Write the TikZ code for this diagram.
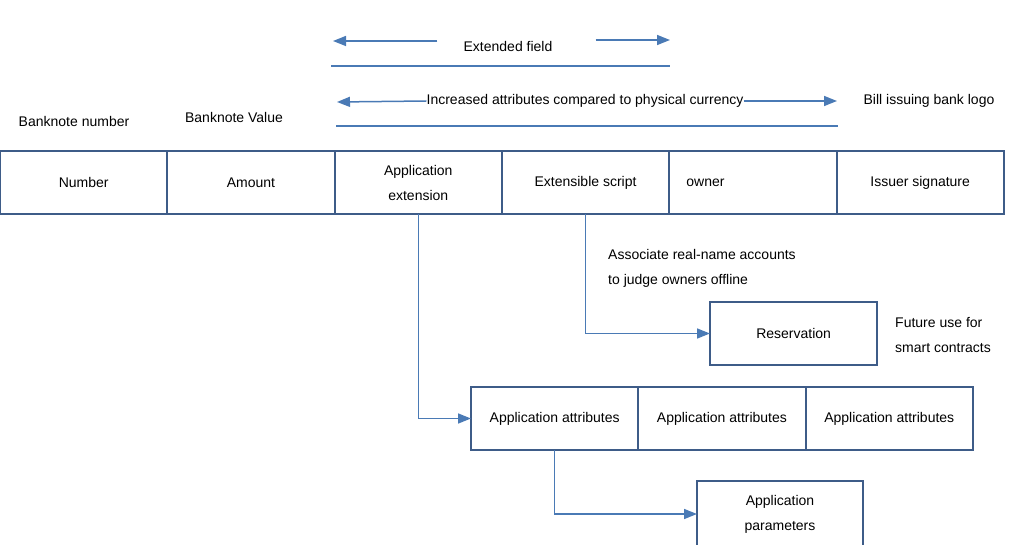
\documentclass[tikz,border=0pt]{standalone}
\usepackage{fontspec}
\setmainfont{Liberation Sans}
\usepackage{xcolor}
\usetikzlibrary{arrows.meta, positioning}
\definecolor{boxblue}{HTML}{3E5C88}
\definecolor{lineblue}{HTML}{4A7AB5}

\begin{document}
\begin{tikzpicture}[x=1pt, y=-1pt,
      font=\fontsize{14}{25}\selectfont,
      cell/.style={draw=boxblue, line width=2pt, outer sep=0pt, inner sep=0pt,
                   minimum width=167.3pt, minimum height=63pt, anchor=north west, align=center},
      txt/.style={inner sep=0pt, align=left},
      arr/.style={draw=lineblue, line width=1.5pt, -{Triangle[length=13pt, width=10pt]}},
      rule/.style={draw=lineblue, line width=1.2pt}
    ]
    \useasboundingbox (0,0) rectangle (1030,545);
    % main row
    \node[cell] (num) at (0,151) {Number};
    \node[cell, right=0pt of num, text depth=-8pt] (amt) {Amount};
    \node[cell, right=0pt of amt] (apx) {Application\\extension};
    \node[cell, right=0pt of apx] (scr) {Extensible script};
    \node[cell, right=0pt of scr, align=left, text width=133pt, inner xsep=17pt] (own) {owner};
    \node[cell, right=0pt of own] (sig) {Issuer signature};
    % labels above the row
    \node[txt] (bnum) at (74,121) {Banknote number};
    \node[txt] (bval) at (234,117) {Banknote Value};
    \node[txt] (logo) at (929,101) {Bill issuing bank logo};
    \node[txt] (extf) at (508,46) {Extended field};
    \node[txt] (inc) at (585,101) {Increased attributes compared to physical currency};
    \coordinate (extfL) at (333,41);
    \coordinate (extfR) at (670,40);
    \coordinate (incL) at (337,102);
    \coordinate (incR) at (837,101);
    \coordinate (r1a) at (331,66);
    \coordinate (r1b) at (670,66);
    \coordinate (r2a) at (336,126);
    \coordinate (r2b) at (838,126);
    \draw[arr] ([xshift=-26pt, yshift=5pt]extf.west) -- (extfL);
    \draw[arr] ([xshift=43pt, yshift=6pt]extf.east) -- (extfR);
    \draw[rule] (r1a) -- (r1b);
    \draw[arr] (inc.west) -- (incL);
    \draw[arr] (inc.east) -- (incR);
    \draw[rule] (r2a) -- (r2b);
    % lower boxes
    \node[cell] (res) at (710,302) {Reservation};
    \node[cell] (att1) at (471,387) {Application attributes};
    \node[cell, right=0pt of att1] (att2) {Application attributes};
    \node[cell, right=0pt of att2] (att3) {Application attributes};
    \node[cell, minimum height=66pt, minimum width=166pt] (par) at (697,481) {Application\\parameters};
    \node[txt, anchor=west] (assoc) at (608,268.5) {Associate real-name accounts\\to judge owners offline};
    \node[txt, anchor=west] (fut) at (895,335.5) {Future use for\\smart contracts};
    % connectors
    \draw[arr] (scr.south) |- (res.west);
    \draw[arr] (apx.south) |- (att1.west);
    \draw[arr] (att1.south) |- (par.west);
  \end{tikzpicture}
\end{document}
